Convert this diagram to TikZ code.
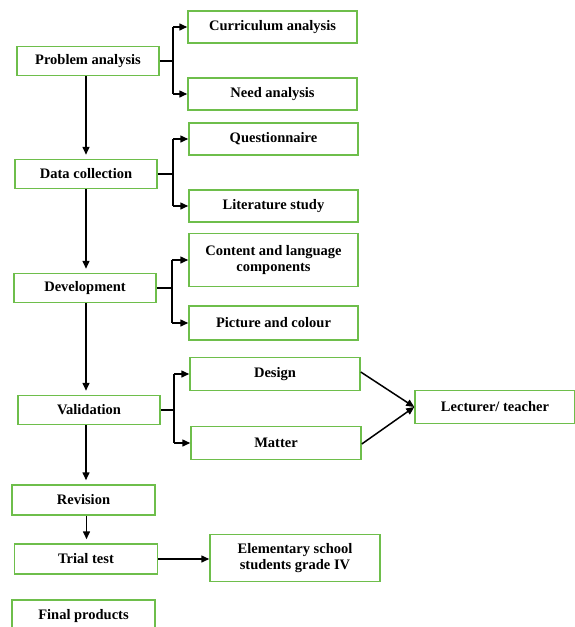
\documentclass[tikz,border=0pt]{standalone}
\usepackage{fontspec}
\setmainfont{Liberation Serif}
\usetikzlibrary{arrows.meta}
\definecolor{boxgreen}{RGB}{110,190,75}
\tikzset{
  box/.style={draw=boxgreen, line width=1.5pt, fill=white, inner sep=2pt, align=center,
    font=\fontsize{14.5}{16.5}\selectfont\bfseries, text=black},
  mainbox/.style={box, minimum width=142pt, minimum height=29pt},
  subbox/.style={box, minimum width=169pt, minimum height=32pt},
  arr/.style={draw=black, line width=1.5pt, -{Triangle[length=8pt,width=7pt]}},
  ln/.style={draw=black, line width=1.5pt}
}
\begin{document}
\begin{tikzpicture}[x=1pt,y=-1pt]
\useasboundingbox (0,0) rectangle (575,627);
\clip (0,0) rectangle (575,627);
\fill[white] (0,0) rectangle (575,627);
% main column
\node[mainbox] (pa) at (88,61) {Problem analysis};
\node[mainbox] (dc) at (86,174) {Data collection};
\node[mainbox] (dev) at (85,288) {Development};
\node[mainbox] (val) at (89,410) {Validation};
\node[mainbox, minimum width=143pt, minimum height=30pt] (rev) at (83.5,500) {Revision};
\node[mainbox, minimum width=143pt, minimum height=30pt] (tt) at (86,559) {Trial test};
\node[mainbox, minimum width=143pt, minimum height=32pt] (fp) at (83.5,616) {Final products};
% sub boxes
\node[subbox] (ca) at (272.5,27) {Curriculum analysis};
\node[subbox] (na) at (272.5,94) {Need analysis};
\node[subbox] (qu) at (273.5,139) {Questionnaire};
\node[subbox] (ls) at (273.5,206) {Literature study};
\node[subbox, minimum height=53pt] (cl) at (273.5,260) {Content and language\\components};
\node[subbox, minimum height=34pt] (pc) at (273.5,323) {Picture and colour};
\node[subbox, minimum width=170pt, minimum height=33pt] (des) at (275,374) {Design};
\node[subbox, minimum width=170pt, minimum height=33pt] (mat) at (276,443) {Matter};
\node[subbox, minimum width=160pt, minimum height=33pt] (lt) at (495,407) {Lecturer/ teacher};
\node[subbox, minimum width=170pt, minimum height=47pt] (es) at (295,558) {Elementary school\\students grade IV};
% main vertical arrows
\draw[arr, shorten >=4pt] ([xshift=-2pt]pa.south) -- ([xshift=-2pt]pa.south |- dc.north);
\draw[arr, shorten >=4pt] (dc.south) -- (dc.south |- dev.north);
\draw[arr, shorten >=4pt] ([xshift=1pt]dev.south) -- ([xshift=1pt]dev.south |- val.north);
\draw[arr, shorten >=4pt] ([xshift=-3pt]val.south) -- ([xshift=-3pt]val.south |- rev.north);
\draw[arr, shorten >=4pt] ([xshift=3pt]rev.south) -- ([xshift=3pt]rev.south |- tt.north);
% branches
\draw[ln] (pa.east) -- ++(13,0) coordinate (pj);
\draw[ln] (pj |- ca.west) -- (pj |- na.west);
\draw[arr] (pj |- ca.west) -- (ca.west);
\draw[arr] (pj |- na.west) -- (na.west);
\draw[ln] (dc.east) -- ++(15,0) coordinate (dj);
\draw[ln] (dj |- qu.west) -- (dj |- ls.west);
\draw[arr] (dj |- qu.west) -- (qu.west);
\draw[arr] (dj |- ls.west) -- (ls.west);
\draw[ln] (dev.east) -- ++(15,0) coordinate (vj);
\draw[ln] (vj |- cl.west) -- (vj |- pc.west);
\draw[arr] (vj |- cl.west) -- (cl.west);
\draw[arr] (vj |- pc.west) -- (pc.west);
\draw[ln] (val.east) -- ++(13,0) coordinate (wj);
\draw[ln] (wj |- des.west) -- (wj |- mat.west);
\draw[arr] (wj |- des.west) -- (des.west);
\draw[arr] (wj |- mat.west) -- (mat.west);
% to lecturer
\draw[arr] ([yshift=2pt]des.east) -- (lt.west);
\draw[arr] ([yshift=-1pt]mat.east) -- (lt.west);
% trial test to elementary
\draw[arr] (tt.east) -- (tt.east -| es.west);
\end{tikzpicture}
\end{document}
